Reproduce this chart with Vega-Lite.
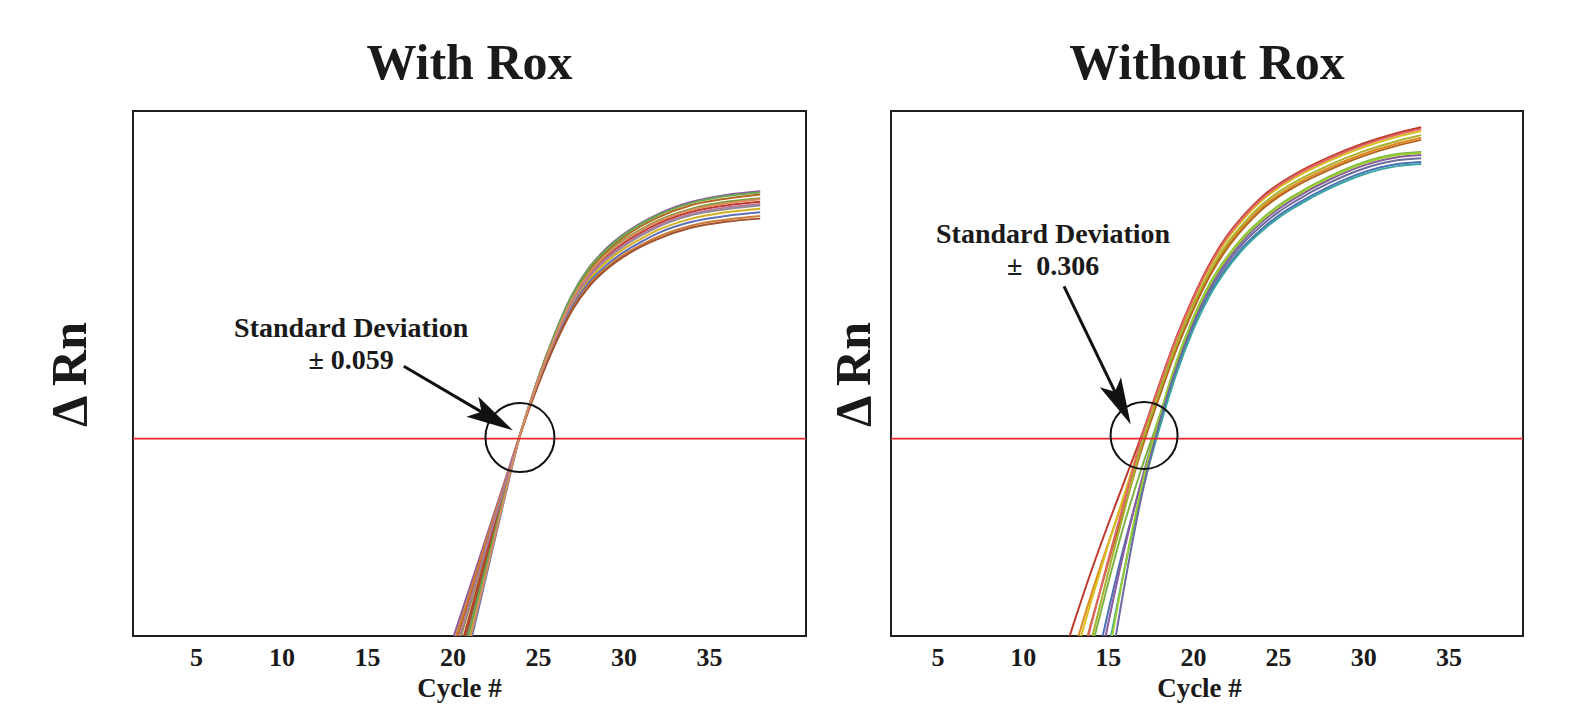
{
"$schema": "https://vega.github.io/schema/vega-lite/v6.json",
"background": "white",
"padding": {"left": 44, "top": 37, "right": 5, "bottom": 5},
"spacing": 85,
"bounds": "flush",
"config": {"font": "Liberation Serif", "view": {"stroke": "#1e1e1e", "strokeWidth": 2}},
"resolve": {"scale": {"x": "independent", "y": "independent", "color": "independent"}},
"datasets": {
"curvesL": [
{"well":"L1","cycle":19,"rn":-10.6},{"well":"L1","cycle":20,"rn":-0.8},{"well":"L1","cycle":21,"rn":9.1},{"well":"L1","cycle":22,"rn":19.0},{"well":"L1","cycle":23,"rn":28.9},{"well":"L1","cycle":24,"rn":38.9},{"well":"L1","cycle":25,"rn":49.0},{"well":"L1","cycle":26,"rn":57.7},{"well":"L1","cycle":27,"rn":65.0},{"well":"L1","cycle":28,"rn":70.2},{"well":"L1","cycle":29,"rn":73.8},{"well":"L1","cycle":30,"rn":76.5},{"well":"L1","cycle":31,"rn":78.6},{"well":"L1","cycle":32,"rn":80.3},{"well":"L1","cycle":34,"rn":82.7},{"well":"L1","cycle":36,"rn":84.0},{"well":"L1","cycle":38,"rn":84.7},
{"well":"L2","cycle":19,"rn":-14.0},{"well":"L2","cycle":20,"rn":-3.4},{"well":"L2","cycle":21,"rn":7.2},{"well":"L2","cycle":22,"rn":17.7},{"well":"L2","cycle":23,"rn":28.3},{"well":"L2","cycle":24,"rn":38.8},{"well":"L2","cycle":25,"rn":48.8},{"well":"L2","cycle":26,"rn":57.4},{"well":"L2","cycle":27,"rn":64.6},{"well":"L2","cycle":28,"rn":69.7},{"well":"L2","cycle":29,"rn":73.2},{"well":"L2","cycle":30,"rn":75.9},{"well":"L2","cycle":31,"rn":78.0},{"well":"L2","cycle":32,"rn":79.7},{"well":"L2","cycle":34,"rn":82.1},{"well":"L2","cycle":36,"rn":83.3},{"well":"L2","cycle":38,"rn":84.1},
{"well":"L3","cycle":19,"rn":-16.8},{"well":"L3","cycle":20,"rn":-5.7},{"well":"L3","cycle":21,"rn":5.5},{"well":"L3","cycle":22,"rn":16.6},{"well":"L3","cycle":23,"rn":27.8},{"well":"L3","cycle":24,"rn":38.8},{"well":"L3","cycle":25,"rn":48.7},{"well":"L3","cycle":26,"rn":57.1},{"well":"L3","cycle":27,"rn":64.2},{"well":"L3","cycle":28,"rn":69.3},{"well":"L3","cycle":29,"rn":72.7},{"well":"L3","cycle":30,"rn":75.4},{"well":"L3","cycle":31,"rn":77.4},{"well":"L3","cycle":32,"rn":79.1},{"well":"L3","cycle":34,"rn":81.4},{"well":"L3","cycle":36,"rn":82.7},{"well":"L3","cycle":38,"rn":83.4},
{"well":"L4","cycle":19,"rn":-19.6},{"well":"L4","cycle":20,"rn":-7.9},{"well":"L4","cycle":21,"rn":3.8},{"well":"L4","cycle":22,"rn":15.6},{"well":"L4","cycle":23,"rn":27.3},{"well":"L4","cycle":24,"rn":38.8},{"well":"L4","cycle":25,"rn":48.5},{"well":"L4","cycle":26,"rn":56.8},{"well":"L4","cycle":27,"rn":63.8},{"well":"L4","cycle":28,"rn":68.8},{"well":"L4","cycle":29,"rn":72.2},{"well":"L4","cycle":30,"rn":74.8},{"well":"L4","cycle":31,"rn":76.8},{"well":"L4","cycle":32,"rn":78.5},{"well":"L4","cycle":34,"rn":80.8},{"well":"L4","cycle":36,"rn":82.0},{"well":"L4","cycle":38,"rn":82.7},
{"well":"L5","cycle":19,"rn":-23.0},{"well":"L5","cycle":20,"rn":-10.6},{"well":"L5","cycle":21,"rn":1.9},{"well":"L5","cycle":22,"rn":14.3},{"well":"L5","cycle":23,"rn":26.7},{"well":"L5","cycle":24,"rn":38.8},{"well":"L5","cycle":25,"rn":48.3},{"well":"L5","cycle":26,"rn":56.5},{"well":"L5","cycle":27,"rn":63.4},{"well":"L5","cycle":28,"rn":68.3},{"well":"L5","cycle":29,"rn":71.7},{"well":"L5","cycle":30,"rn":74.2},{"well":"L5","cycle":31,"rn":76.2},{"well":"L5","cycle":32,"rn":77.9},{"well":"L5","cycle":34,"rn":80.2},{"well":"L5","cycle":36,"rn":81.3},{"well":"L5","cycle":38,"rn":82.0},
{"well":"L6","cycle":19,"rn":-26.4},{"well":"L6","cycle":20,"rn":-13.2},{"well":"L6","cycle":21,"rn":-0.1},{"well":"L6","cycle":22,"rn":13.0},{"well":"L6","cycle":23,"rn":26.1},{"well":"L6","cycle":24,"rn":38.8},{"well":"L6","cycle":25,"rn":48.2},{"well":"L6","cycle":26,"rn":56.2},{"well":"L6","cycle":27,"rn":63.0},{"well":"L6","cycle":28,"rn":67.9},{"well":"L6","cycle":29,"rn":71.2},{"well":"L6","cycle":30,"rn":73.7},{"well":"L6","cycle":31,"rn":75.6},{"well":"L6","cycle":32,"rn":77.3},{"well":"L6","cycle":34,"rn":79.5},{"well":"L6","cycle":36,"rn":80.7},{"well":"L6","cycle":38,"rn":81.4},
{"well":"L7","cycle":19,"rn":-29.7},{"well":"L7","cycle":20,"rn":-15.9},{"well":"L7","cycle":21,"rn":-2.1},{"well":"L7","cycle":22,"rn":11.7},{"well":"L7","cycle":23,"rn":25.5},{"well":"L7","cycle":24,"rn":38.7},{"well":"L7","cycle":25,"rn":48.0},{"well":"L7","cycle":26,"rn":55.9},{"well":"L7","cycle":27,"rn":62.6},{"well":"L7","cycle":28,"rn":67.4},{"well":"L7","cycle":29,"rn":70.6},{"well":"L7","cycle":30,"rn":73.1},{"well":"L7","cycle":31,"rn":75.0},{"well":"L7","cycle":32,"rn":76.7},{"well":"L7","cycle":34,"rn":78.9},{"well":"L7","cycle":36,"rn":80.0},{"well":"L7","cycle":38,"rn":80.7},
{"well":"L8","cycle":19,"rn":-12.3},{"well":"L8","cycle":20,"rn":-2.1},{"well":"L8","cycle":21,"rn":8.1},{"well":"L8","cycle":22,"rn":18.4},{"well":"L8","cycle":23,"rn":28.6},{"well":"L8","cycle":24,"rn":38.7},{"well":"L8","cycle":25,"rn":47.8},{"well":"L8","cycle":26,"rn":55.6},{"well":"L8","cycle":27,"rn":62.2},{"well":"L8","cycle":28,"rn":66.9},{"well":"L8","cycle":29,"rn":70.1},{"well":"L8","cycle":30,"rn":72.6},{"well":"L8","cycle":31,"rn":74.4},{"well":"L8","cycle":32,"rn":76.0},{"well":"L8","cycle":34,"rn":78.2},{"well":"L8","cycle":36,"rn":79.3},{"well":"L8","cycle":38,"rn":80.0},
{"well":"L9","cycle":19,"rn":-21.3},{"well":"L9","cycle":20,"rn":-9.2},{"well":"L9","cycle":21,"rn":2.8},{"well":"L9","cycle":22,"rn":14.9},{"well":"L9","cycle":23,"rn":27.0},{"well":"L9","cycle":24,"rn":38.7},{"well":"L9","cycle":25,"rn":47.7},{"well":"L9","cycle":26,"rn":55.5},{"well":"L9","cycle":27,"rn":62.0},{"well":"L9","cycle":28,"rn":66.6},{"well":"L9","cycle":29,"rn":69.8},{"well":"L9","cycle":30,"rn":72.2},{"well":"L9","cycle":31,"rn":74.1},{"well":"L9","cycle":32,"rn":75.6},{"well":"L9","cycle":34,"rn":77.8},{"well":"L9","cycle":36,"rn":78.9},{"well":"L9","cycle":38,"rn":79.5},
{"well":"L10","cycle":19,"rn":-24.7},{"well":"L10","cycle":20,"rn":-11.9},{"well":"L10","cycle":21,"rn":0.9},{"well":"L10","cycle":22,"rn":13.6},{"well":"L10","cycle":23,"rn":26.4},{"well":"L10","cycle":24,"rn":38.8},{"well":"L10","cycle":25,"rn":48.9},{"well":"L10","cycle":26,"rn":57.6},{"well":"L10","cycle":27,"rn":64.9},{"well":"L10","cycle":28,"rn":70.1},{"well":"L10","cycle":29,"rn":73.6},{"well":"L10","cycle":30,"rn":76.3},{"well":"L10","cycle":31,"rn":78.4},{"well":"L10","cycle":32,"rn":80.1},{"well":"L10","cycle":34,"rn":82.5},{"well":"L10","cycle":36,"rn":83.8},{"well":"L10","cycle":38,"rn":84.5},
{"well":"L11","cycle":19,"rn":-15.7},{"well":"L11","cycle":20,"rn":-4.8},{"well":"L11","cycle":21,"rn":6.2},{"well":"L11","cycle":22,"rn":17.1},{"well":"L11","cycle":23,"rn":28.0},{"well":"L11","cycle":24,"rn":38.8},{"well":"L11","cycle":25,"rn":48.4},{"well":"L11","cycle":26,"rn":56.6},{"well":"L11","cycle":27,"rn":63.5},{"well":"L11","cycle":28,"rn":68.5},{"well":"L11","cycle":29,"rn":71.9},{"well":"L11","cycle":30,"rn":74.4},{"well":"L11","cycle":31,"rn":76.4},{"well":"L11","cycle":32,"rn":78.1},{"well":"L11","cycle":34,"rn":80.4},{"well":"L11","cycle":36,"rn":81.6},{"well":"L11","cycle":38,"rn":82.3},
{"well":"L12","cycle":19,"rn":-28.0},{"well":"L12","cycle":20,"rn":-14.6},{"well":"L12","cycle":21,"rn":-1.1},{"well":"L12","cycle":22,"rn":12.3},{"well":"L12","cycle":23,"rn":25.8},{"well":"L12","cycle":24,"rn":38.8},{"well":"L12","cycle":25,"rn":48.6},{"well":"L12","cycle":26,"rn":57.0},{"well":"L12","cycle":27,"rn":64.1},{"well":"L12","cycle":28,"rn":69.1},{"well":"L12","cycle":29,"rn":72.6},{"well":"L12","cycle":30,"rn":75.2},{"well":"L12","cycle":31,"rn":77.2},{"well":"L12","cycle":32,"rn":78.9},{"well":"L12","cycle":34,"rn":81.2},{"well":"L12","cycle":36,"rn":82.4},{"well":"L12","cycle":38,"rn":83.2}
],
"curvesR": [
{"well":"U1","cycle":12,"rn":-7.7},{"well":"U1","cycle":13,"rn":2.4},{"well":"U1","cycle":14,"rn":12.1},{"well":"U1","cycle":15,"rn":21.1},{"well":"U1","cycle":16,"rn":29.7},{"well":"U1","cycle":17,"rn":38.3},{"well":"U1","cycle":18,"rn":47.7},{"well":"U1","cycle":19,"rn":56.7},{"well":"U1","cycle":20,"rn":64.4},{"well":"U1","cycle":21,"rn":71.0},{"well":"U1","cycle":22,"rn":76.2},{"well":"U1","cycle":23,"rn":80.2},{"well":"U1","cycle":24,"rn":83.5},{"well":"U1","cycle":25,"rn":86.0},{"well":"U1","cycle":26,"rn":88.0},{"well":"U1","cycle":28,"rn":91.2},{"well":"U1","cycle":30,"rn":93.8},{"well":"U1","cycle":32,"rn":95.8},{"well":"U1","cycle":33.4,"rn":96.9},
{"well":"U2","cycle":12,"rn":-14.1},{"well":"U2","cycle":13,"rn":-3.0},{"well":"U2","cycle":14,"rn":7.6},{"well":"U2","cycle":15,"rn":17.4},{"well":"U2","cycle":16,"rn":26.8},{"well":"U2","cycle":17,"rn":36.2},{"well":"U2","cycle":18,"rn":45.7},{"well":"U2","cycle":19,"rn":54.7},{"well":"U2","cycle":20,"rn":62.4},{"well":"U2","cycle":21,"rn":69.0},{"well":"U2","cycle":22,"rn":74.2},{"well":"U2","cycle":23,"rn":78.2},{"well":"U2","cycle":24,"rn":81.5},{"well":"U2","cycle":25,"rn":84.0},{"well":"U2","cycle":26,"rn":86.0},{"well":"U2","cycle":28,"rn":89.2},{"well":"U2","cycle":30,"rn":91.8},{"well":"U2","cycle":32,"rn":93.8},{"well":"U2","cycle":33.4,"rn":94.9},
{"well":"U3","cycle":12,"rn":-17.1},{"well":"U3","cycle":13,"rn":-5.0},{"well":"U3","cycle":14,"rn":6.4},{"well":"U3","cycle":15,"rn":17.1},{"well":"U3","cycle":16,"rn":27.3},{"well":"U3","cycle":17,"rn":37.5},{"well":"U3","cycle":18,"rn":47.0},{"well":"U3","cycle":19,"rn":56.0},{"well":"U3","cycle":20,"rn":63.7},{"well":"U3","cycle":21,"rn":70.3},{"well":"U3","cycle":22,"rn":75.5},{"well":"U3","cycle":23,"rn":79.5},{"well":"U3","cycle":24,"rn":82.8},{"well":"U3","cycle":25,"rn":85.3},{"well":"U3","cycle":26,"rn":87.3},{"well":"U3","cycle":28,"rn":90.5},{"well":"U3","cycle":30,"rn":93.1},{"well":"U3","cycle":32,"rn":95.1},{"well":"U3","cycle":33.4,"rn":96.2},
{"well":"U4","cycle":12,"rn":-23.1},{"well":"U4","cycle":13,"rn":-10.1},{"well":"U4","cycle":14,"rn":2.2},{"well":"U4","cycle":15,"rn":13.7},{"well":"U4","cycle":16,"rn":24.7},{"well":"U4","cycle":17,"rn":35.7},{"well":"U4","cycle":18,"rn":45.3},{"well":"U4","cycle":19,"rn":54.3},{"well":"U4","cycle":20,"rn":62.0},{"well":"U4","cycle":21,"rn":68.6},{"well":"U4","cycle":22,"rn":73.8},{"well":"U4","cycle":23,"rn":77.8},{"well":"U4","cycle":24,"rn":81.1},{"well":"U4","cycle":25,"rn":83.6},{"well":"U4","cycle":26,"rn":85.6},{"well":"U4","cycle":28,"rn":88.8},{"well":"U4","cycle":30,"rn":91.4},{"well":"U4","cycle":32,"rn":93.4},{"well":"U4","cycle":33.4,"rn":94.5},
{"well":"U5","cycle":12,"rn":-25.3},{"well":"U5","cycle":13,"rn":-11.4},{"well":"U5","cycle":14,"rn":1.8},{"well":"U5","cycle":15,"rn":14.2},{"well":"U5","cycle":16,"rn":26.0},{"well":"U5","cycle":17,"rn":37.8},{"well":"U5","cycle":18,"rn":47.4},{"well":"U5","cycle":19,"rn":56.4},{"well":"U5","cycle":20,"rn":64.1},{"well":"U5","cycle":21,"rn":70.7},{"well":"U5","cycle":22,"rn":75.9},{"well":"U5","cycle":23,"rn":79.9},{"well":"U5","cycle":24,"rn":83.2},{"well":"U5","cycle":25,"rn":85.7},{"well":"U5","cycle":26,"rn":87.7},{"well":"U5","cycle":28,"rn":90.9},{"well":"U5","cycle":30,"rn":93.5},{"well":"U5","cycle":32,"rn":95.5},{"well":"U5","cycle":33.4,"rn":96.6},
{"well":"U6","cycle":12,"rn":-29.8},{"well":"U6","cycle":13,"rn":-15.2},{"well":"U6","cycle":14,"rn":-1.3},{"well":"U6","cycle":15,"rn":11.8},{"well":"U6","cycle":16,"rn":24.2},{"well":"U6","cycle":17,"rn":36.6},{"well":"U6","cycle":18,"rn":46.2},{"well":"U6","cycle":19,"rn":55.2},{"well":"U6","cycle":20,"rn":62.9},{"well":"U6","cycle":21,"rn":69.5},{"well":"U6","cycle":22,"rn":74.7},{"well":"U6","cycle":23,"rn":78.7},{"well":"U6","cycle":24,"rn":82.0},{"well":"U6","cycle":25,"rn":84.5},{"well":"U6","cycle":26,"rn":86.5},{"well":"U6","cycle":28,"rn":89.7},{"well":"U6","cycle":30,"rn":92.3},{"well":"U6","cycle":32,"rn":94.3},{"well":"U6","cycle":33.4,"rn":95.4},
{"well":"W1","cycle":13,"rn":-15.5},{"well":"W1","cycle":14,"rn":-3.0},{"well":"W1","cycle":15,"rn":9.8},{"well":"W1","cycle":16,"rn":21.7},{"well":"W1","cycle":17,"rn":32.1},{"well":"W1","cycle":18,"rn":41.5},{"well":"W1","cycle":19,"rn":52.0},{"well":"W1","cycle":20,"rn":60.5},{"well":"W1","cycle":21,"rn":67.2},{"well":"W1","cycle":22,"rn":72.2},{"well":"W1","cycle":23,"rn":76.2},{"well":"W1","cycle":24,"rn":79.3},{"well":"W1","cycle":25,"rn":81.9},{"well":"W1","cycle":26,"rn":84.0},{"well":"W1","cycle":28,"rn":87.5},{"well":"W1","cycle":30,"rn":90.2},{"well":"W1","cycle":32,"rn":91.8},{"well":"W1","cycle":33.4,"rn":92.2},
{"well":"W2","cycle":13,"rn":-24.1},{"well":"W2","cycle":14,"rn":-10.1},{"well":"W2","cycle":15,"rn":4.3},{"well":"W2","cycle":16,"rn":17.7},{"well":"W2","cycle":17,"rn":29.4},{"well":"W2","cycle":18,"rn":39.6},{"well":"W2","cycle":19,"rn":50.1},{"well":"W2","cycle":20,"rn":58.6},{"well":"W2","cycle":21,"rn":65.3},{"well":"W2","cycle":22,"rn":70.3},{"well":"W2","cycle":23,"rn":74.3},{"well":"W2","cycle":24,"rn":77.4},{"well":"W2","cycle":25,"rn":80.0},{"well":"W2","cycle":26,"rn":82.1},{"well":"W2","cycle":28,"rn":85.6},{"well":"W2","cycle":30,"rn":88.3},{"well":"W2","cycle":32,"rn":89.9},{"well":"W2","cycle":33.4,"rn":90.3},
{"well":"W3","cycle":13,"rn":-29.6},{"well":"W3","cycle":14,"rn":-14.0},{"well":"W3","cycle":15,"rn":2.0},{"well":"W3","cycle":16,"rn":16.9},{"well":"W3","cycle":17,"rn":29.9},{"well":"W3","cycle":18,"rn":40.9},{"well":"W3","cycle":19,"rn":51.4},{"well":"W3","cycle":20,"rn":59.9},{"well":"W3","cycle":21,"rn":66.6},{"well":"W3","cycle":22,"rn":71.6},{"well":"W3","cycle":23,"rn":75.6},{"well":"W3","cycle":24,"rn":78.7},{"well":"W3","cycle":25,"rn":81.3},{"well":"W3","cycle":26,"rn":83.4},{"well":"W3","cycle":28,"rn":86.9},{"well":"W3","cycle":30,"rn":89.6},{"well":"W3","cycle":32,"rn":91.2},{"well":"W3","cycle":33.4,"rn":91.6},
{"well":"W4","cycle":13,"rn":-38.1},{"well":"W4","cycle":14,"rn":-20.9},{"well":"W4","cycle":15,"rn":-3.3},{"well":"W4","cycle":16,"rn":13.1},{"well":"W4","cycle":17,"rn":27.4},{"well":"W4","cycle":18,"rn":39.2},{"well":"W4","cycle":19,"rn":49.7},{"well":"W4","cycle":20,"rn":58.2},{"well":"W4","cycle":21,"rn":64.9},{"well":"W4","cycle":22,"rn":69.9},{"well":"W4","cycle":23,"rn":73.9},{"well":"W4","cycle":24,"rn":77.0},{"well":"W4","cycle":25,"rn":79.6},{"well":"W4","cycle":26,"rn":81.7},{"well":"W4","cycle":28,"rn":85.2},{"well":"W4","cycle":30,"rn":87.9},{"well":"W4","cycle":32,"rn":89.5},{"well":"W4","cycle":33.4,"rn":89.9},
{"well":"W5","cycle":13,"rn":-42.7},{"well":"W5","cycle":14,"rn":-24.0},{"well":"W5","cycle":15,"rn":-4.8},{"well":"W5","cycle":16,"rn":13.1},{"well":"W5","cycle":17,"rn":28.7},{"well":"W5","cycle":18,"rn":41.3},{"well":"W5","cycle":19,"rn":51.8},{"well":"W5","cycle":20,"rn":60.3},{"well":"W5","cycle":21,"rn":67.0},{"well":"W5","cycle":22,"rn":72.0},{"well":"W5","cycle":23,"rn":76.0},{"well":"W5","cycle":24,"rn":79.1},{"well":"W5","cycle":25,"rn":81.7},{"well":"W5","cycle":26,"rn":83.8},{"well":"W5","cycle":28,"rn":87.3},{"well":"W5","cycle":30,"rn":90.0},{"well":"W5","cycle":32,"rn":91.6},{"well":"W5","cycle":33.4,"rn":92.0},
{"well":"W6","cycle":13,"rn":-50.5},{"well":"W6","cycle":14,"rn":-30.2},{"well":"W6","cycle":15,"rn":-9.4},{"well":"W6","cycle":16,"rn":10.0},{"well":"W6","cycle":17,"rn":26.9},{"well":"W6","cycle":18,"rn":40.3},{"well":"W6","cycle":19,"rn":50.8},{"well":"W6","cycle":20,"rn":59.3},{"well":"W6","cycle":21,"rn":66.0},{"well":"W6","cycle":22,"rn":71.0},{"well":"W6","cycle":23,"rn":75.0},{"well":"W6","cycle":24,"rn":78.1},{"well":"W6","cycle":25,"rn":80.7},{"well":"W6","cycle":26,"rn":82.8},{"well":"W6","cycle":28,"rn":86.3},{"well":"W6","cycle":30,"rn":89.0},{"well":"W6","cycle":32,"rn":90.6},{"well":"W6","cycle":33.4,"rn":91.0}
]
},
"hconcat": [
{
"width": 673, "height": 525,
"title": {"text": "With Rox", "font": "Liberation Serif", "fontSize": 50, "fontWeight": "bold", "color": "#1a1a1a", "anchor": "middle", "frame": "group", "baseline": "alphabetic", "offset": -17.8},
"layer": [
{"data": {"name": "curvesL"},
 "mark": {"type": "line", "clip": true, "strokeWidth": 2, "interpolate": "monotone"},
 "encoding": {
  "x": {"field": "cycle", "type": "quantitative", "scale": {"domain": [1.32, 40.68], "nice": false, "zero": false},
        "axis": {"title": "Cycle #", "values": [5,10,15,20,25,30,35], "ticks": false, "tickSize": 0, "domain": false, "grid": false,
                 "labelFont": "Liberation Serif", "labelFontSize": 26, "labelFontWeight": "bold", "labelColor": "#1a1a1a", "labelPadding": 8.5, "labelBaseline": "top",
                 "titleFont": "Liberation Serif", "titleFontSize": 27, "titleFontWeight": "bold", "titleColor": "#1a1a1a", "titleBaseline": "alphabetic", "titleAlign": "center", "titleX": 326, "titleY": 60.3}},
  "y": {"field": "rn", "type": "quantitative", "scale": {"domain": [0, 100], "nice": false, "zero": false},
        "axis": {"title": "Δ Rn", "labels": false, "ticks": false, "tickSize": 0, "domain": false, "grid": false,
                 "titleFont": "Liberation Serif", "titleFontSize": 50, "titleFontWeight": "bold", "titleColor": "#1a1a1a", "titleAngle": 270, "titleBaseline": "alphabetic", "titleAlign": "center", "titleX": -47.8, "titleY": 263}},
  "color": {"field": "well", "type": "nominal", "legend": null,
            "scale": {"domain": ["L1","L2","L3","L4","L5","L6","L7","L8","L9","L10","L11","L12"],
                      "range": ["#8a5a9e","#b5651d","#7d9b3a","#c0392b","#8c8c8c","#d4b020","#5d6fb5","#cc7a3a","#a0522d","#6aa84f","#b07aa1","#d98c5f"]}}
 }},
{"data": {"values": [{"threshold": 37.6}]},
 "mark": {"type": "rule", "color": "#e8262b", "strokeWidth": 1.8},
 "encoding": {"y": {"field": "threshold", "type": "quantitative"}}},
{"data": {"values": [{"cx": 23.95, "cy": 37.8}]},
 "mark": {"type": "point", "shape": "circle", "filled": false, "size": 4761, "stroke": "#111111", "strokeWidth": 2, "opacity": 1},
 "encoding": {"x": {"field": "cx", "type": "quantitative"}, "y": {"field": "cy", "type": "quantitative"}}},
{"data": {"values": [{"x0": 17.16, "y0": 51.37, "x1": 21.77, "y1": 42.55}]},
 "mark": {"type": "rule", "color": "#111111", "strokeWidth": 3},
 "encoding": {"x": {"field": "x0", "type": "quantitative"}, "y": {"field": "y0", "type": "quantitative"}, "x2": {"field": "x1"}, "y2": {"field": "y1"}}},
{"data": {"values": [{"tx": 23.54, "ty": 39.18}]},
 "mark": {"type": "point", "shape": "M0,0L-0.5,2L0,1.55L0.5,2Z", "filled": true, "size": 2209, "color": "#111111", "opacity": 1, "angle": 120.4},
 "encoding": {"x": {"field": "tx", "type": "quantitative"}, "y": {"field": "ty", "type": "quantitative"}}},
{"data": {"values": [{"label": "Standard Deviation", "lx": 14.08, "ly": 56.97}, {"label": "± 0.059", "lx": 14.08, "ly": 50.88}]},
 "mark": {"type": "text", "font": "Liberation Serif", "fontSize": 28, "fontWeight": "bold", "color": "#1a1a1a", "align": "center", "baseline": "alphabetic"},
 "encoding": {"x": {"field": "lx", "type": "quantitative"}, "y": {"field": "ly", "type": "quantitative"}, "text": {"field": "label"}}}
]
},
{
"width": 632, "height": 525,
"title": {"text": "Without Rox", "font": "Liberation Serif", "fontSize": 50, "fontWeight": "bold", "color": "#1a1a1a", "anchor": "middle", "frame": "group", "baseline": "alphabetic", "offset": -17.8},
"layer": [
{"data": {"name": "curvesR"},
 "mark": {"type": "line", "clip": true, "strokeWidth": 2, "interpolate": "monotone"},
 "encoding": {
  "x": {"field": "cycle", "type": "quantitative", "scale": {"domain": [2.27, 39.38], "nice": false, "zero": false},
        "axis": {"title": "Cycle #", "values": [5,10,15,20,25,30,35], "ticks": false, "tickSize": 0, "domain": false, "grid": false,
                 "labelFont": "Liberation Serif", "labelFontSize": 26, "labelFontWeight": "bold", "labelColor": "#1a1a1a", "labelPadding": 8.5, "labelBaseline": "top",
                 "titleFont": "Liberation Serif", "titleFontSize": 27, "titleFontWeight": "bold", "titleColor": "#1a1a1a", "titleBaseline": "alphabetic", "titleAlign": "center", "titleX": 308, "titleY": 60.3}},
  "y": {"field": "rn", "type": "quantitative", "scale": {"domain": [0, 100], "nice": false, "zero": false},
        "axis": {"title": "Δ Rn", "labels": false, "ticks": false, "tickSize": 0, "domain": false, "grid": false,
                 "titleFont": "Liberation Serif", "titleFontSize": 50, "titleFontWeight": "bold", "titleColor": "#1a1a1a", "titleAngle": 270, "titleBaseline": "alphabetic", "titleAlign": "center", "titleX": -21.9, "titleY": 263}},
  "color": {"field": "well", "type": "nominal", "legend": null,
            "scale": {"domain": ["U1","U2","U3","U4","U5","U6","W1","W2","W3","W4","W5","W6"],
                      "range": ["#c0392b","#e08a1e","#d8c020","#b5651d","#e06666","#a8b030","#7cb342","#4a6fb5","#8a5a9e","#3aa6a0","#9acd32","#6b6b9e"]}}
 }},
{"data": {"values": [{"threshold": 37.6}]},
 "mark": {"type": "rule", "color": "#e8262b", "strokeWidth": 1.8},
 "encoding": {"y": {"field": "threshold", "type": "quantitative"}}},
{"data": {"values": [{"cx": 17.13, "cy": 38.2}]},
 "mark": {"type": "point", "shape": "circle", "filled": false, "size": 4489, "stroke": "#111111", "strokeWidth": 2, "opacity": 1},
 "encoding": {"x": {"field": "cx", "type": "quantitative"}, "y": {"field": "cy", "type": "quantitative"}}},
{"data": {"values": [{"x0": 12.43, "y0": 66.61, "x1": 15.46, "y1": 46.27}]},
 "mark": {"type": "rule", "color": "#111111", "strokeWidth": 3},
 "encoding": {"x": {"field": "x0", "type": "quantitative"}, "y": {"field": "y0", "type": "quantitative"}, "x2": {"field": "x1"}, "y2": {"field": "y1"}}},
{"data": {"values": [{"tx": 16.35, "ty": 40.27}]},
 "mark": {"type": "point", "shape": "M0,0L-0.5,2L0,1.55L0.5,2Z", "filled": true, "size": 2209, "color": "#111111", "opacity": 1, "angle": 154.25},
 "encoding": {"x": {"field": "tx", "type": "quantitative"}, "y": {"field": "ty", "type": "quantitative"}}},
{"data": {"values": [{"label": "Standard Deviation", "lx": 11.79, "ly": 74.8}, {"label": "± \u00a00.306", "lx": 11.79, "ly": 68.7}]},
 "mark": {"type": "text", "font": "Liberation Serif", "fontSize": 28, "fontWeight": "bold", "color": "#1a1a1a", "align": "center", "baseline": "alphabetic"},
 "encoding": {"x": {"field": "lx", "type": "quantitative"}, "y": {"field": "ly", "type": "quantitative"}, "text": {"field": "label"}}}
]
}
]
}
